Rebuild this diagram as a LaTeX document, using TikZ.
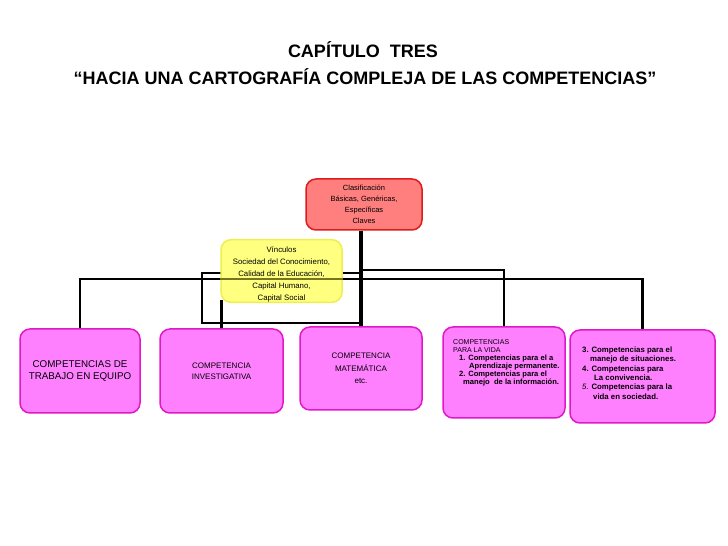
\documentclass[tikz,border=0pt]{standalone}
\usepackage{fontspec}
\setmainfont{Liberation Sans}
\definecolor{redfill}{HTML}{FF7F7F}
\definecolor{redline}{HTML}{E01B1B}
\definecolor{yelfill}{HTML}{FFFF80}
\definecolor{yelline}{HTML}{EEEE50}
\definecolor{magfill}{HTML}{FF80FF}
\definecolor{magline}{HTML}{E019C8}
\definecolor{olivel}{HTML}{75751E}
\pgfdeclarelayer{background}
\pgfsetlayers{background,main}
\begin{document}
\begin{tikzpicture}[x=1pt,y=1pt,
  cbox/.style={rounded corners=10pt, line width=1.5pt, inner sep=0pt, align=center},
  redbox/.style={cbox, draw=redline, fill=redfill},
  yelbox/.style={cbox, draw=yelline, fill=yelfill},
  magbox/.style={cbox, draw=magline, fill=magfill},
  conn/.style={line width=2.6pt, draw=black},
  txt/.style={inner sep=0pt, align=left, anchor=north west},
  ttl/.style={font=\fontsize{18}{20}\selectfont\bfseries, inner sep=0pt}]
\useasboundingbox (0,0) rectangle (728,546);

% title
\node[ttl] (t1) at (363,496) {CAPÍTULO\ \ TRES};
\node[ttl] (t2) at (365,469) {“HACIA UNA CARTOGRAFÍA COMPLEJA DE LAS COMPETENCIAS”};

% boxes
\node[redbox, minimum width=116pt, minimum height=51pt, font=\fontsize{7.5}{11}\selectfont] (clas) at (364,341.5)
     {Clasificación\\Básicas, Genéricas,\\Específicas\\Claves};
\node[magbox, minimum width=120pt, minimum height=84pt, font=\fontsize{9.8}{12.5}\selectfont] (b1) at (80,175)
     {COMPETENCIAS DE\\TRABAJO EN EQUIPO};
\node[magbox, minimum width=123pt, minimum height=84pt, font=\fontsize{8}{10.5}\selectfont] (b2) at (221.5,175)
     {COMPETENCIA\\INVESTIGATIVA};
\node[magbox, minimum width=122pt, minimum height=83pt, font=\fontsize{8}{12.5}\selectfont] (b3) at (361,177.5)
     {COMPETENCIA\\MATEMÁTICA\\etc.};
\node[magbox, minimum width=122pt, minimum height=91pt] (b4) at (504,173.5) {};
\node[magbox, minimum width=145pt, minimum height=93pt] (b5) at (642.5,169.5) {};

% junction coordinates
\coordinate (j1) at (362,267);
\coordinate (j2) at (362,276);
\coordinate (r1) at (362,273);
\coordinate (r2) at (202,273);
\coordinate (r3) at (202,223);
\coordinate (r4) at (362,223);

% connectors behind the boxes
\begin{pgfonlayer}{background}
\draw[conn] (b1.north) -- (b1.north |- j1) -- (b5.north |- j1) -- (b5.north);
\draw[conn] (j2) -- (b4.north |- j2) -- (b4.north);
\draw[conn] (r1) -- (r2) -- (r3) -- (r4);
\draw[conn, line width=3.2pt] (b3.north |- clas.south) -- (b3.north);
\draw[conn] (b2.north |- 0,246) -- (b2.north);
\end{pgfonlayer}

% vinculos box
\node[yelbox, minimum width=121pt, minimum height=62pt, font=\fontsize{7.8}{12}\selectfont] (vinc) at (281.5,275)
     {\rule{0pt}{13pt}Vínculos\\Sociedad del Conocimiento,\\Calidad de la Educación,\\Capital Humano,\\Capital Social};
\draw[line width=2.6pt, draw=olivel] (vinc.west |- j1) -- (vinc.east |- j1);

% texts of boxes 4 and 5
\node[txt, font=\fontsize{7}{8}\selectfont] (t4) at (453,206.5)
  {COMPETENCIAS\\
   PARA LA VIDA\\
   \fontsize{7.6}{8}\selectfont\bfseries\hspace*{6pt}1. Competencias para el a\\
   \fontsize{7.6}{8}\selectfont\bfseries\hspace*{16pt}Aprendizaje permanente.\\
   \fontsize{7.6}{8}\selectfont\bfseries\hspace*{6pt}2. Competencias para el\\
   \fontsize{7.6}{8}\selectfont\bfseries\hspace*{10pt}manejo \ de la información.};
\node[txt, font=\fontsize{7.8}{9.4}\selectfont\bfseries] (t5) at (582,199.5)
  {3. Competencias para el\\
   \hspace*{8pt}manejo de situaciones.\\
   4. Competencias para\\
   \hspace*{12pt}La convivencia.\\
   {\mdseries\itshape 5.} Competencias para la\\
   \hspace*{11pt}vida en sociedad.};
\end{tikzpicture}
\end{document}
